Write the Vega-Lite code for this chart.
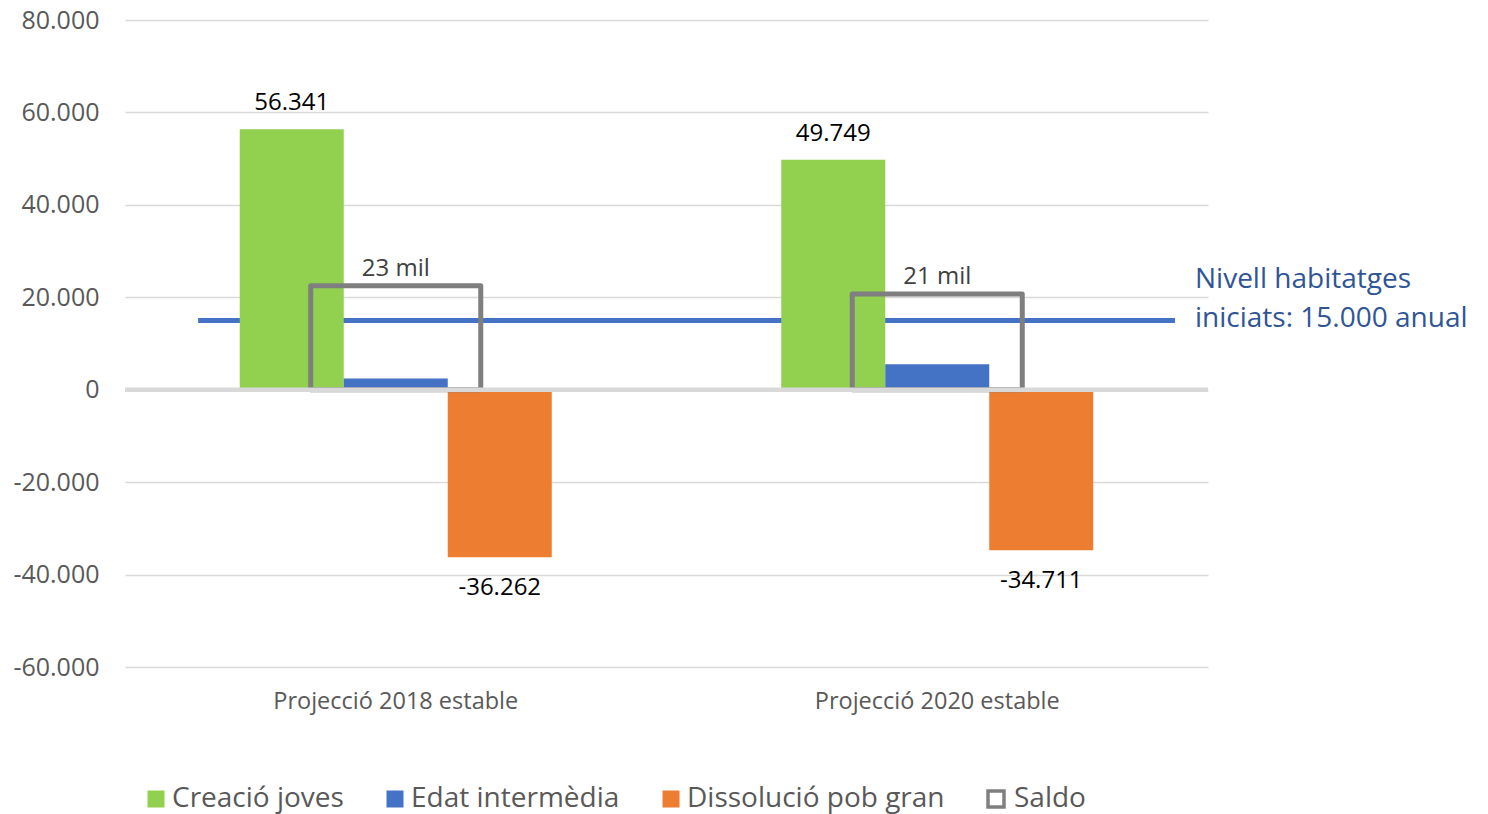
{
  "$schema": "https://vega.github.io/schema/vega-lite/v6.json",
  "width": 1083,
  "height": 647,
  "autosize": {"type": "none"},
  "padding": {"left": 125, "top": 20, "right": 280, "bottom": 147},
  "background": "white",
  "config": {"font": "Open Sans", "view": {"stroke": null}},
  "datasets": {
    "bars": [
      {"proj": "Projecció 2018 estable", "serie": "Creació joves", "value": 56341},
      {"proj": "Projecció 2018 estable", "serie": "Edat intermèdia", "value": 2400},
      {"proj": "Projecció 2018 estable", "serie": "Dissolució pob gran", "value": -36262},
      {"proj": "Projecció 2020 estable", "serie": "Creació joves", "value": 49749},
      {"proj": "Projecció 2020 estable", "serie": "Edat intermèdia", "value": 5500},
      {"proj": "Projecció 2020 estable", "serie": "Dissolució pob gran", "value": -34711}
    ],
    "saldo": [
      {"proj": "Projecció 2018 estable", "serie": "Saldo", "value": 22500, "label": "23 mil"},
      {"proj": "Projecció 2020 estable", "serie": "Saldo", "value": 20700, "label": "21 mil"}
    ],
    "ref": [
      {"start": "Projecció 2018 estable", "end": "Projecció 2020 estable", "value": 15000, "label": ["Nivell habitatges", "iniciats: 15.000 anual"]}
    ],
    "zero": [{"value": 0}]
  },
  "encoding": {
    "x": {
      "field": "proj", "type": "nominal",
      "scale": {"domain": ["Projecció 2018 estable", "Projecció 2020 estable"], "paddingInner": 0, "paddingOuter": 0},
      "axis": {"title": null, "domain": false, "ticks": false, "grid": false, "labelPadding": 22, "labelFontSize": 23.5, "labelColor": "#595959", "labelAngle": 0, "labelLimit": 0}
    },
    "y": {
      "field": "value", "type": "quantitative",
      "scale": {"domain": [-60000, 80000], "nice": false, "zero": false},
      "axis": {
        "title": null,
        "values": [-60000, -40000, -20000, 0, 20000, 40000, 60000, 80000],
        "labelExpr": "(datum.value < 0 ? '-' : '') + replace(format(abs(datum.value), ','), ',', '.')",
        "grid": true, "gridColor": "#D9D9D9", "gridWidth": 1.5,
        "domain": false, "ticks": false, "labelPadding": 26,
        "labelFontSize": 25, "labelColor": "#595959"
      }
    }
  },
  "layer": [
    {
      "data": {"name": "ref"},
      "mark": {"type": "rule", "color": "#4472C4", "strokeWidth": 5},
      "encoding": {
        "x": {"field": "start", "type": "nominal", "bandPosition": 0.135},
        "x2": {"field": "end", "bandPosition": 0.939}
      }
    },
    {
      "data": {"name": "bars"},
      "mark": {"type": "bar"},
      "encoding": {
        "xOffset": {"field": "serie", "type": "nominal", "scale": {"domain": ["Creació joves", "Edat intermèdia", "Dissolució pob gran"], "paddingInner": 0, "paddingOuter": 0, "range": [114.75, 426.75]}},
        "color": {
          "field": "serie", "type": "nominal",
          "scale": {"domain": ["Creació joves", "Edat intermèdia", "Dissolució pob gran"], "range": ["#92D050", "#4472C4", "#ED7D31"]},
          "legend": {
            "orient": "none", "legendX": 17, "legendY": 765, "direction": "horizontal",
            "title": null, "symbolType": "square", "symbolSize": 289, "symbolStrokeWidth": 0,
            "labelFontSize": 28, "labelColor": "#595959", "columnPadding": 37, "labelOffset": 2,
            "labelLimit": 0
          }
        }
      }
    },
    {
      "data": {"name": "saldo"},
      "mark": {"type": "bar", "filled": false, "fill": "transparent", "strokeWidth": 5, "strokeJoin": "round", "width": {"band": 0.314}},
      "encoding": {
        "stroke": {
          "field": "serie", "type": "nominal",
          "scale": {"domain": ["Saldo"], "range": ["#7F7F7F"]},
          "legend": {
            "orient": "none", "legendX": 857, "legendY": 765, "direction": "horizontal",
            "title": null, "symbolType": "square", "symbolSize": 256, "symbolStrokeWidth": 3.5,
            "symbolFillColor": "#FFFFFF",
            "labelFontSize": 28, "labelColor": "#595959", "labelOffset": 4, "labelLimit": 0
          }
        }
      }
    },
    {
      "data": {"name": "zero"},
      "mark": {"type": "rule", "color": "#D9D9D9", "strokeWidth": 4.5},
      "encoding": {"x": null}
    },
    {
      "data": {"name": "bars"},
      "transform": [
        {"filter": "datum.serie !== 'Edat intermèdia' && datum.value > 0"},
        {"calculate": "replace(format(abs(datum.value), ','), ',', '.')", "as": "txt"}
      ],
      "mark": {"type": "text", "baseline": "alphabetic", "dy": -19, "fontSize": 24, "color": "#000000"},
      "encoding": {
        "xOffset": {"field": "serie", "type": "nominal"},
        "text": {"field": "txt"}
      }
    },
    {
      "data": {"name": "bars"},
      "transform": [
        {"filter": "datum.serie !== 'Edat intermèdia' && datum.value < 0"},
        {"calculate": "'-' + replace(format(abs(datum.value), ','), ',', '.')", "as": "txt"}
      ],
      "mark": {"type": "text", "baseline": "alphabetic", "dy": 38, "fontSize": 24, "color": "#000000"},
      "encoding": {
        "xOffset": {"field": "serie", "type": "nominal"},
        "text": {"field": "txt"}
      }
    },
    {
      "data": {"name": "saldo"},
      "mark": {"type": "text", "baseline": "alphabetic", "dy": -10, "fontSize": 24, "color": "#404040"},
      "encoding": {"text": {"field": "label"}}
    },
    {
      "data": {"name": "ref"},
      "mark": {"type": "text", "align": "left", "baseline": "alphabetic", "dx": -13, "dy": -32, "fontSize": 28, "lineHeight": 39, "color": "#2F5597"},
      "encoding": {
        "x": {"field": "end", "type": "nominal", "bandPosition": 1},
        "text": {"field": "label"}
      }
    }
  ]
}
